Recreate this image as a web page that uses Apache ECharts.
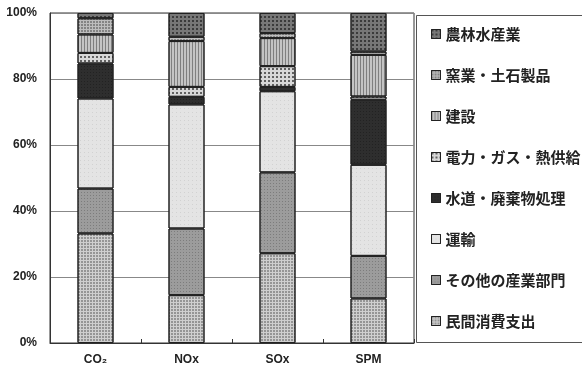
<!DOCTYPE html>
<html>
<head>
<meta charset="utf-8">
<script src="https://cdn.jsdelivr.net/npm/echarts@6/dist/echarts.min.js"></script>
<style>html,body{margin:0;padding:0;background:#fff}#c{width:582px;height:370px}</style>
</head>
<body>
<div id="c"></div>
<script>
var categories = ['CO₂', 'NOx', 'SOx', 'SPM'];
var yTicks = [0, 20, 40, 60, 80, 100];
// series listed from bottom of stack to top
var minkan   = [33.2, 14.5, 27.2, 13.5]; // 民間消費支出
var sonota   = [13.6, 20.2, 24.5, 12.9]; // その他の産業部門
var unyu     = [27.3, 37.6, 24.6, 27.6]; // 運輸
var suido    = [10.6, 2.3, 1.3, 19.7];   // 水道・廃棄物処理
var denryoku = [3.2, 3.0, 6.3, 1.0];     // 電力・ガス・熱供給
var kensetsu = [5.6, 13.9, 8.5, 12.6];   // 建設
var yogyo    = [4.9, 1.3, 1.5, 1.0];     // 窯業・土石製品
var norin    = [1.6, 7.2, 6.1, 11.7];    // 農林水産業

var names = ['民間消費支出', 'その他の産業部門', '運輸', '水道・廃棄物処理', '電力・ガス・熱供給', '建設', '窯業・土石製品', '農林水産業'];
var values = [minkan, sonota, unyu, suido, denryoku, kensetsu, yogyo, norin];
var legendOrder = ['農林水産業', '窯業・土石製品', '建設', '電力・ガス・熱供給', '水道・廃棄物処理', '運輸', 'その他の産業部門', '民間消費支出'];

var fills = ['#cfcfcf', '#9c9c9c', '#e4e4e4', '#2e2e2e', '#d8d8d8', '#c4c4c4', '#bdbdbd', '#777777'];
var decals = [
  {symbol: 'rect', symbolSize: 1, dashArrayX: [2, 1], dashArrayY: [2, 1], color: 'rgba(0,0,0,0.28)'},
  {symbol: 'rect', symbolSize: 1, dashArrayX: [1, 2], dashArrayY: [1, 2], color: 'rgba(0,0,0,0.2)'},
  {symbol: 'rect', symbolSize: 1, dashArrayX: [1, 3], dashArrayY: [1, 3], color: 'rgba(0,0,0,0.08)'},
  {symbol: 'rect', symbolSize: 1, dashArrayX: [1, 2], dashArrayY: [1, 2], color: 'rgba(0,0,0,0.25)'},
  {symbol: 'rect', symbolSize: 1, dashArrayX: [2, 2], dashArrayY: [2, 2], color: 'rgba(0,0,0,0.55)'},
  {symbol: 'rect', symbolSize: 1, dashArrayX: [1, 2], dashArrayY: [6, 0], color: 'rgba(0,0,0,0.35)'},
  {symbol: 'rect', symbolSize: 1, dashArrayX: [2, 1], dashArrayY: [2, 1], color: 'rgba(0,0,0,0.3)'},
  {symbol: 'rect', symbolSize: 1, dashArrayX: [2, 2], dashArrayY: [2, 2], color: 'rgba(0,0,0,0.5)'}
];

var series = names.map(function (n, i) {
  return {
    name: n,
    type: 'bar',
    stack: 'total',
    barWidth: 36,
    data: values[i],
    itemStyle: {color: fills[i], borderColor: '#222', borderWidth: 1, decal: decals[i]}
  };
});

var chart = echarts.init(document.getElementById('c'), null, {renderer: 'canvas'});
chart.setOption({
  animation: false,
  backgroundColor: '#fff',
  grid: {left: 50, right: 168, top: 13, bottom: 27, show: true, borderColor: '#333', borderWidth: 1, backgroundColor: 'transparent'},
  graphic: [{
    type: 'rect', left: 414, top: 13, shape: {width: 170, height: 327},
    style: {fill: 'none', stroke: '#555', lineWidth: 1}, silent: true
  }],
  legend: {
    orient: 'vertical', left: 426, top: 19,
    data: legendOrder,
    icon: 'rect', itemWidth: 9, itemHeight: 9, itemGap: 21,
    itemStyle: {borderColor: '#222', borderWidth: 1},
    textStyle: {fontFamily: 'Noto Sans CJK JP', fontSize: 15, fontWeight: 'bold', color: '#222', lineHeight: 20}
  },
  xAxis: {
    type: 'category', data: categories,
    axisLine: {lineStyle: {color: '#333', width: 1}},
    axisTick: {show: true, inside: true, length: 4, lineStyle: {color: '#333'}},
    axisLabel: {fontFamily: 'Liberation Sans', fontSize: 12, fontWeight: 'bold', color: '#222', margin: 11}
  },
  yAxis: {
    type: 'value', min: yTicks[0], max: yTicks[yTicks.length - 1], interval: 20,
    axisLine: {show: true, lineStyle: {color: '#333'}},
    axisTick: {show: false},
    axisLabel: {formatter: '{value}%', fontFamily: 'Liberation Sans', fontSize: 12, fontWeight: 'bold', color: '#222', margin: 13},
    splitLine: {lineStyle: {color: '#888', width: 1}}
  },
  series: series
});
</script>
</body>
</html>
